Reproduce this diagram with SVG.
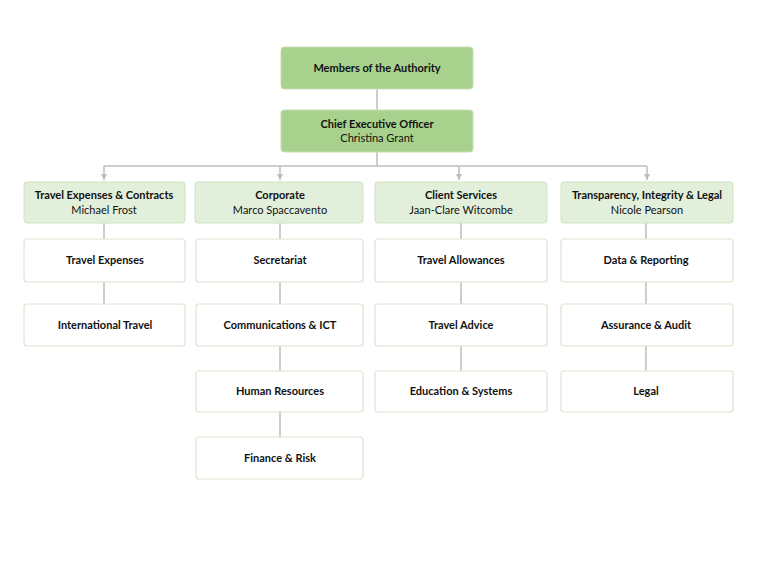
<svg xmlns="http://www.w3.org/2000/svg" width="768" height="567" viewBox="0 0 768 567">
<defs>
<style>
.top rect{fill:#a9d18e;stroke:#c5e0b4;stroke-width:1}
.head rect{fill:#e2efda;stroke:#cfe3c3;stroke-width:1}
.unit rect{fill:#ffffff;stroke:#d9e6cf;stroke-width:1.2}
text{font-family:Lato,"Open Sans","Liberation Sans",sans-serif;font-size:11px;fill:#111;text-anchor:middle}
.b{font-weight:bold}
.conn line,.conn path{stroke:#bdbdbd;stroke-width:1.5;fill:none}
</style>
<marker id="arr" markerWidth="8" markerHeight="8" refX="6" refY="4" orient="auto" markerUnits="userSpaceOnUse">
<path d="M0,1 L6,4 L0,7 Z" fill="#bdbdbd"/>
</marker>
</defs>
<rect width="768" height="567" fill="#ffffff"/>
<g id="connectors" class="conn">
<line x1="377" y1="89" x2="377" y2="110"/>
<line x1="377" y1="152" x2="377" y2="166"/>
<line x1="104" y1="166" x2="647" y2="166"/>
<line x1="104" y1="166" x2="104" y2="180" marker-end="url(#arr)"/>
<line x1="280" y1="166" x2="280" y2="180" marker-end="url(#arr)"/>
<line x1="459" y1="166" x2="459" y2="180" marker-end="url(#arr)"/>
<line x1="647" y1="166" x2="647" y2="180" marker-end="url(#arr)"/>
<line x1="104" y1="223" x2="104" y2="239"/>
<line x1="104" y1="282" x2="104" y2="304"/>
<line x1="280" y1="223" x2="280" y2="239"/>
<line x1="280" y1="282" x2="280" y2="304"/>
<line x1="280" y1="346" x2="280" y2="371"/>
<line x1="280" y1="412" x2="280" y2="437"/>
<line x1="461" y1="223" x2="461" y2="239"/>
<line x1="461" y1="282" x2="461" y2="304"/>
<line x1="461" y1="346" x2="461" y2="371"/>
<line x1="646" y1="223" x2="646" y2="239"/>
<line x1="646" y1="282" x2="646" y2="304"/>
<line x1="646" y1="346" x2="646" y2="371"/>
</g>
<g id="members" class="top"><rect x="281" y="47" width="192" height="42" rx="3"/><text x="377" y="72" class="b">Members of the Authority</text></g>
<g id="ceo" class="top"><rect x="281" y="110" width="192" height="42" rx="3"/><text x="377" y="128" class="b">Chief Executive Officer</text><text x="377" y="142">Christina Grant</text></g>
<g id="travel-expenses-contracts" class="head"><rect x="24" y="182" width="161" height="41" rx="3"/><text x="104" y="199" class="b">Travel Expenses &amp; Contracts</text><text x="104" y="214">Michael Frost</text></g>
<g id="corporate" class="head"><rect x="195" y="182" width="168" height="41" rx="3"/><text x="280" y="199" class="b">Corporate</text><text x="280" y="214">Marco Spaccavento</text></g>
<g id="client-services" class="head"><rect x="375" y="182" width="172" height="41" rx="3"/><text x="461" y="199" class="b">Client Services</text><text x="461" y="214">Jaan-Clare Witcombe</text></g>
<g id="transparency" class="head"><rect x="561" y="182" width="172" height="41" rx="3"/><text x="647" y="199" class="b">Transparency, Integrity &amp; Legal</text><text x="647" y="214">Nicole Pearson</text></g>
<g id="travel-expenses" class="unit"><rect x="24" y="239" width="161" height="43" rx="3"/><text x="105" y="264" class="b">Travel Expenses</text></g>
<g id="international-travel" class="unit"><rect x="24" y="304" width="161" height="42" rx="3"/><text x="105" y="329" class="b">International Travel</text></g>
<g id="secretariat" class="unit"><rect x="196" y="239" width="167" height="43" rx="3"/><text x="280" y="264" class="b">Secretariat</text></g>
<g id="communications-ict" class="unit"><rect x="196" y="304" width="167" height="42" rx="3"/><text x="280" y="329" class="b">Communications &amp; ICT</text></g>
<g id="human-resources" class="unit"><rect x="196" y="371" width="167" height="41" rx="3"/><text x="280" y="395" class="b">Human Resources</text></g>
<g id="finance-risk" class="unit"><rect x="196" y="437" width="167" height="42" rx="3"/><text x="280" y="462" class="b">Finance &amp; Risk</text></g>
<g id="travel-allowances" class="unit"><rect x="375" y="239" width="172" height="43" rx="3"/><text x="461" y="264" class="b">Travel Allowances</text></g>
<g id="travel-advice" class="unit"><rect x="375" y="304" width="172" height="42" rx="3"/><text x="461" y="329" class="b">Travel Advice</text></g>
<g id="education-systems" class="unit"><rect x="375" y="371" width="172" height="41" rx="3"/><text x="461" y="395" class="b">Education &amp; Systems</text></g>
<g id="data-reporting" class="unit"><rect x="561" y="239" width="172" height="43" rx="3"/><text x="646" y="264" class="b">Data &amp; Reporting</text></g>
<g id="assurance-audit" class="unit"><rect x="561" y="304" width="172" height="42" rx="3"/><text x="646" y="329" class="b">Assurance &amp; Audit</text></g>
<g id="legal" class="unit"><rect x="561" y="371" width="172" height="41" rx="3"/><text x="646" y="395" class="b">Legal</text></g>
</svg>
